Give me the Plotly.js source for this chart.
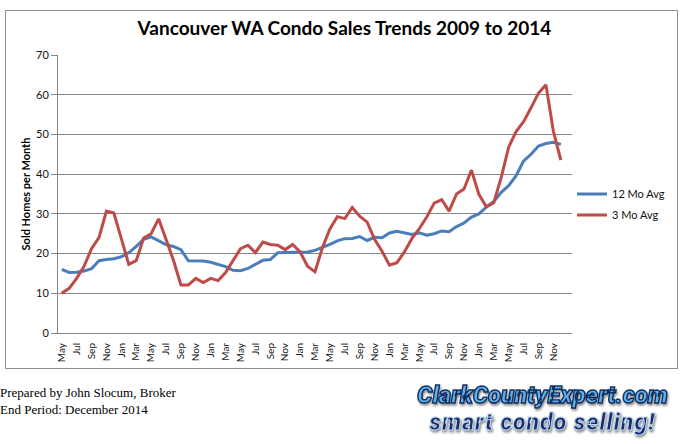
<!DOCTYPE html>
<html>
<head>
<meta charset="utf-8">
<script src="https://cdn.plot.ly/plotly-3.0.1.min.js"></script>
<style>
  body { margin: 0; background: #fff; }
  #wrap { position: relative; width: 682px; height: 444px; overflow: hidden; background: #fff; }
  #frame { position: absolute; left: 5px; top: 10px; width: 671px; height: 357px; border: 1px solid #8e8e8e; }
  #chart { position: absolute; left: 0; top: 0; width: 682px; height: 444px; }
  .note { position: absolute; left: 0; font: 13px "Liberation Serif", serif; color: #000; white-space: nowrap; }
  .logo { position: absolute; left: 400px; width: 285px; text-align: center; font-family: Roboto, sans-serif;
          font-style: italic; font-weight: 900; white-space: nowrap; line-height: 28px; height: 28px;
          filter: drop-shadow(1px 2px 1px rgba(0,0,0,0.45)); }
  .l1 { top: 381px; font-size: 24px; letter-spacing: 0px; color: #5eb0ea; -webkit-text-stroke: 1.4px #0f2c5e; }
  .l2 { top: 409px; font-size: 23px; letter-spacing: 1px; color: #1b2c68; -webkit-text-stroke: 1px #b9d6f4; }
</style>
</head>
<body>
<div id="wrap">
  <div id="frame"></div>
  <div id="chart"></div>
  <div class="note" style="top:385px">Prepared by John Slocum, Broker</div>
  <div class="note" style="top:402px">End Period: December 2014</div>
  <div class="logo l1">ClarkCountyExpert.com</div>
  <div class="logo l2">smart condo selling!</div>
</div>
<script>
// May 2009 .. Dec 2014, one value per month
const avg12 = [16, 15.25, 15.3, 15.6, 16.2, 18.2, 18.5, 18.7, 19.2, 20.2, 21.8, 23.6,
  24.2, 23.3, 22.25, 21.8, 21, 18.2, 18.2, 18.1, 17.8, 17.3, 16.7, 15.8,
  15.7, 16.25, 17.25, 18.3, 18.5, 20.2, 20.3, 20.3, 20.3, 20.4, 20.8, 21.5,
  22.3, 23.2, 23.75, 23.8, 24.3, 23.3, 24.1, 24, 25.2, 25.6, 25.2, 24.8,
  25.2, 24.6, 25, 25.7, 25.5, 26.8, 27.7, 29.2, 30, 31.7, 33.1, 35.4,
  37.1, 39.6, 43.3, 45, 47.1, 47.7, 48, 47.5]

const avg3 = [10, 11.25, 13.75, 16.8, 21.25, 24, 30.7, 30.2, 23.75, 17.3, 18.2, 23.9,
  25, 28.75, 23.6, 18.3, 12.1, 12.1, 13.75, 12.7, 13.75, 13.2, 15.2, 18.3,
  21.25, 22.1, 20.25, 22.9, 22.3, 22.1, 21, 22.3, 20.4, 16.8, 15.4, 21.5,
  26.2, 29.3, 28.8, 31.6, 29.4, 27.9, 23.6, 20.6, 17.1, 17.7, 20.4, 23.75,
  26.25, 29.2, 32.7, 33.6, 30.7, 35, 36.25, 41, 34.9, 31.8, 32.8, 39.2,
  46.8, 50.7, 53.2, 56.7, 60.4, 62.5, 50.8, 43.5]

// every other month is labelled, starting at May 2009
const tickLabels = ["May", "Jul", "Sep", "Nov", "Jan", "Mar", "May", "Jul", "Sep", "Nov",
  "Jan", "Mar", "May", "Jul", "Sep", "Nov", "Jan", "Mar", "May", "Jul", "Sep", "Nov",
  "Jan", "Mar", "May", "Jul", "Sep", "Nov", "Jan", "Mar", "May", "Jul", "Sep", "Nov"]

const xs = avg12.map((_, i) => i)
const tickVals = tickLabels.map((_, k) => k * 2)

const font = "Lato, 'Open Sans', sans-serif"

const data = [
  {
    x: xs, y: avg12, name: "12 Mo Avg", type: "scatter", mode: "lines",
    line: { color: "#4a7ebb", width: 3 }, legendgroup: "a",
  },
  {
    x: xs, y: avg3, name: "3 Mo Avg", type: "scatter", mode: "lines",
    line: { color: "#be4b48", width: 3 }, legendgroup: "b",
  },
]

Plotly.newPlot("chart", data, {
  width: 682,
  height: 444,
  margin: { l: 58, r: 110, t: 55, b: 111 },
  paper_bgcolor: "rgba(0,0,0,0)",
  plot_bgcolor: "rgba(0,0,0,0)",
  font: { family: font, color: "#000" },
  title: {
    text: "<b>Vancouver WA Condo Sales Trends 2009 to 2014</b>",
    font: { family: font, size: 19, color: "#000" },
    x: 0.505, xref: "container", xanchor: "center",
    y: 1 - 28 / 444, yref: "container", yanchor: "middle",
  },
  xaxis: {
    range: [-0.5, 68.5],
    tickvals: tickVals,
    ticktext: tickLabels,
    tickangle: -90,
    tickfont: { size: 10, color: "#111" },
    ticks: "outside", ticklen: 5, tickcolor: "rgba(0,0,0,0)",
    showgrid: false, zeroline: false,
    showline: true, linecolor: "#868686", linewidth: 1,
    fixedrange: true,
  },
  yaxis: {
    range: [0, 70],
    dtick: 10,
    tickfont: { size: 11, color: "#111" },
    ticks: "outside", ticklen: 6, tickcolor: "#868686",
    showgrid: true, gridcolor: "#868686", gridwidth: 1,
    zeroline: false,
    showline: true, linecolor: "#868686", linewidth: 1,
    title: { text: "<b>Sold Homes per Month</b>", font: { size: 11, color: "#000" }, standoff: 3 },
    fixedrange: true,
  },
  showlegend: true,
  legend: {
    x: 1.0, xanchor: "left", xref: "paper",
    y: 0.552, yanchor: "top",
    traceorder: "grouped", tracegroupgap: 2,
    font: { size: 11, color: "#111" },
    bgcolor: "rgba(0,0,0,0)",
  },
}, { displayModeBar: false, staticPlot: true })
</script>
</body>
</html>
